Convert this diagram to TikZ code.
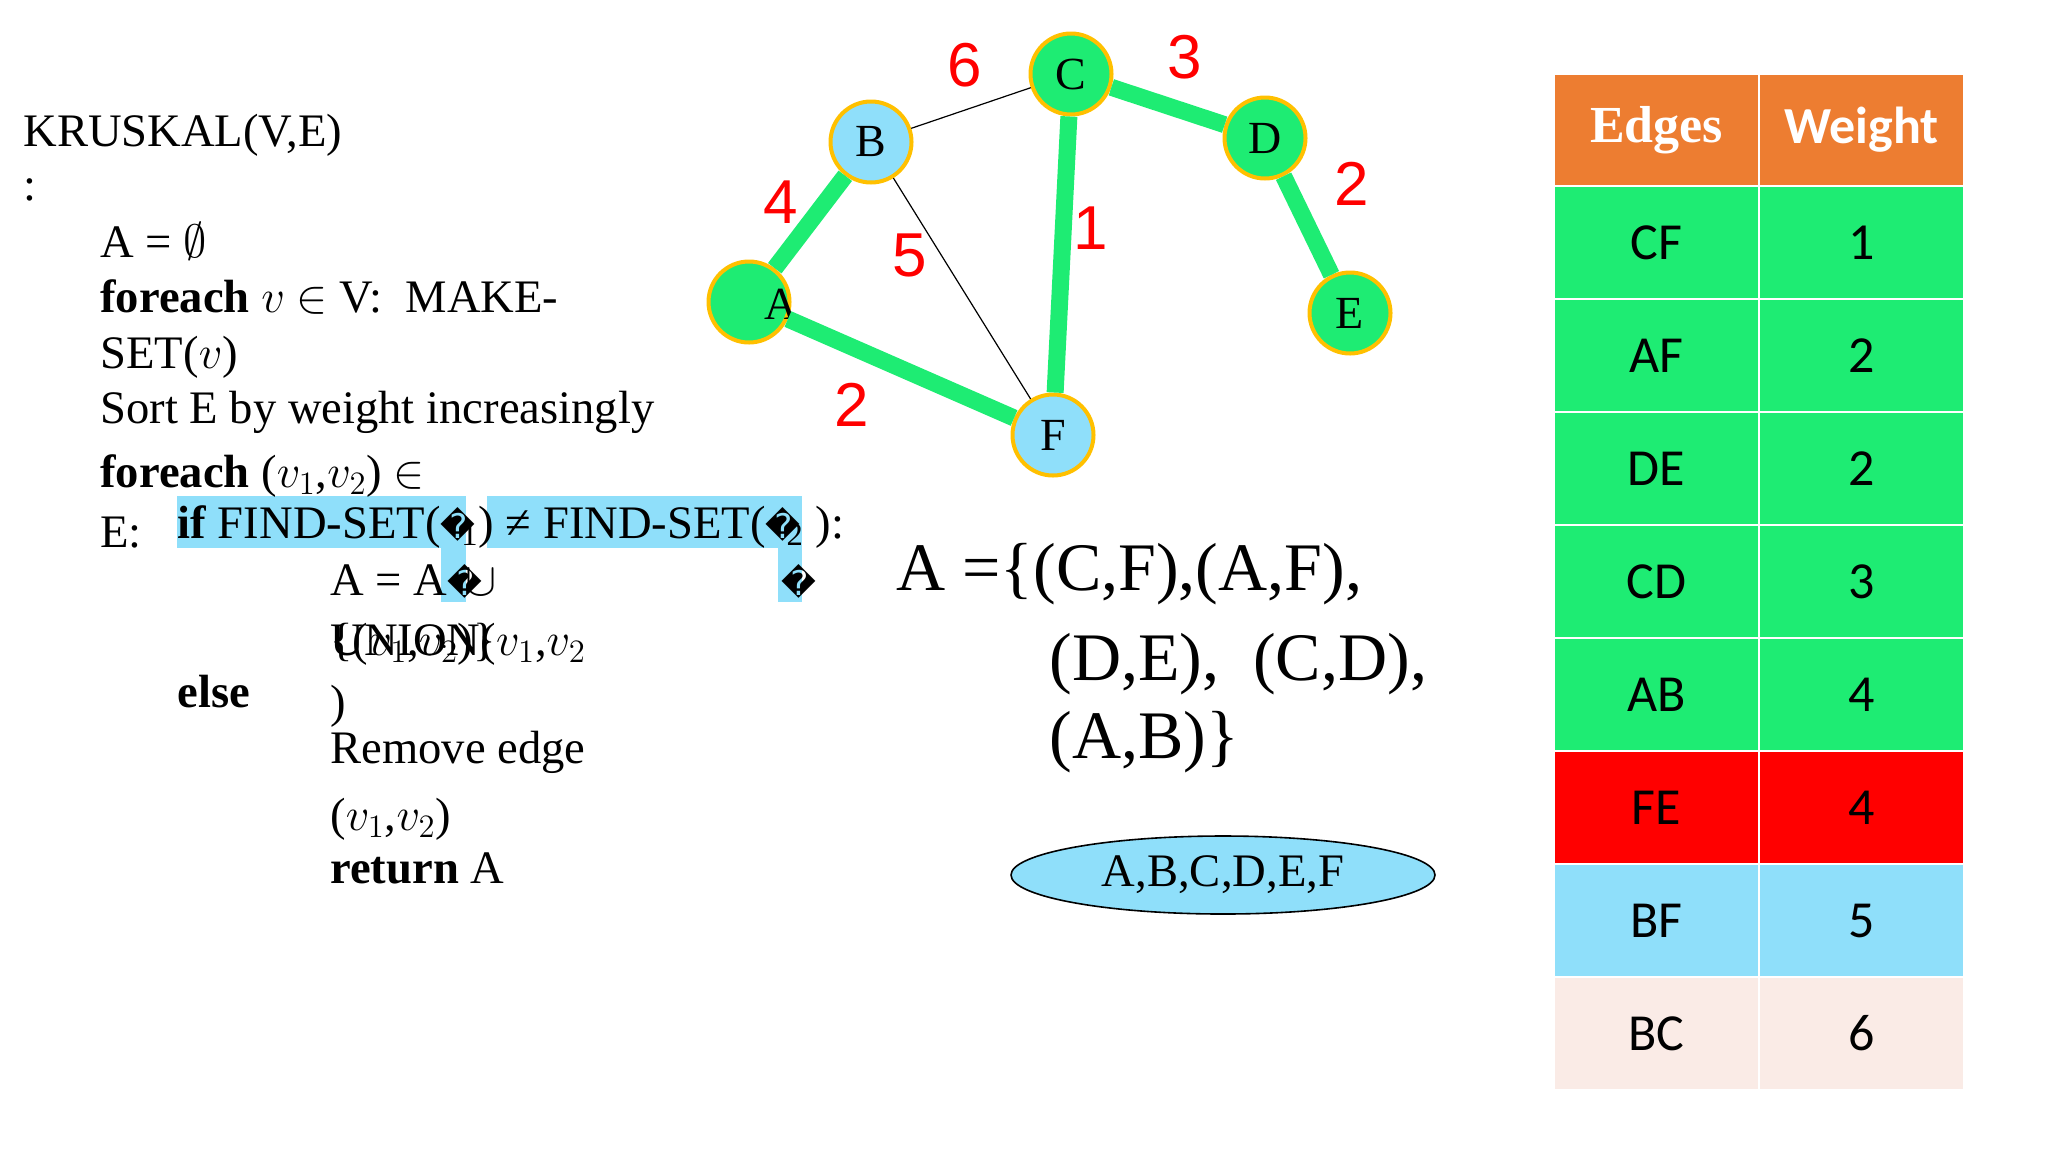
\documentclass[tikz,border=0pt]{standalone}
\usepackage{fix-cm}
\usepackage{fontspec}
\setmainfont{Liberation Serif}
\newfontfamily\calib{Carlito}
\newfontfamily\arialf{Liberation Sans}
\newfontfamily\dejavu{DejaVu Sans}
\usetikzlibrary{shapes.geometric}
\definecolor{kgreen}{HTML}{1EEC73}
\definecolor{kblue}{HTML}{8FDFFA}
\definecolor{kgold}{HTML}{FFC000}
\definecolor{korange}{HTML}{ED7D31}
\definecolor{kred}{HTML}{FF0000}
\definecolor{kpink}{HTML}{FAEBE6}
\newcommand{\codefont}{\fontsize{23.3pt}{28pt}\selectfont}
\newcommand{\badglyph}{{\dejavu\fontsize{17pt}{20pt}\selectfont\char"FFFD}}

\begin{document}
\begin{tikzpicture}[x=0.5pt,y=-0.5pt]
    \tikzset{code/.style={anchor=base west,inner sep=0pt,font=\codefont},
      setline/.style={anchor=base west,inner sep=0pt,font=\fontsize{34pt}{40pt}\selectfont},
      vertex/.style={circle,draw=kgold,line width=2pt,minimum size=40.5pt,inner sep=0pt,
        font=\fontsize{23pt}{28pt}\selectfont},
      mst/.style={kgreen,line width=8.5pt},
      spare/.style={black,line width=0.6pt},
      wlabel/.style={inner sep=0pt,text=kred,font=\arialf\fontsize{31pt}{34pt}\selectfont},
      cell/.style={draw=white,line width=1pt,minimum width=102.5pt,minimum height=56.5pt,
        inner sep=0pt,font=\calib\fontsize{26pt}{30pt}\selectfont},
      hilite/.style={fill=kblue}}
    \useasboundingbox (0,0) rectangle (2048,1152);

    % pseudocode
    \fill[hilite] (177,496) rectangle (466,548);
    \fill[hilite] (441,548) rectangle (466,602);
    \fill[hilite] (487,496) rectangle (802,548);
    \fill[hilite] (778,548) rectangle (802,602);
    \node[code] (l1) at (23,146) {KRUSKAL(V,E)};
    \node[code] (l2) at (23,200) {:};
    \node[code] (l3) at (100,257) {A = $\emptyset$};
    \node[code] (l4) at (100,312) {\textbf{foreach} $v$ $\in$ V:\ \ MAKE-};
    \node[code] (l5) at (100,368) {SET($v$)};
    \node[code] (l6) at (100,423) {Sort E by weight increasingly};
    \node[code] (l7) at (100,487) {\textbf{foreach} ($v_1$,$v_2$) $\in$};
    \node[code] (l8) at (100,547) {E:};
    \node[code] (ifl) at (177,538) {\textbf{if} FIND-SET(\badglyph\kern-.3em\textsubscript{1}) ≠ FIND-SET(\badglyph\kern-.3em\textsubscript{2} ):};
    \node[code] (addl) at (330,595) {A = A\badglyph\kern-.35em$\cup$};
    \node[code] (bad2) at (781,595) {\badglyph};
    \node[code] (un1) at (330,655) {UNION($v_1$,$v_2$};
    \node[code] (un2) at (330,655) {\{($v_1$,$v_2$)\}};
    \node[code] (rpar) at (330,717) {)};
    \node[code] (elsel) at (177,707) {\textbf{else}};
    \node[code] (rml) at (330,763) {Remove edge};
    \node[code] (pairl) at (330,830) {($v_1$,$v_2$)};
    \node[code] (retl) at (330,883) {\textbf{return} A};

    % graph
    \node[vertex,fill=kgreen,label={[xshift=16pt,yshift=-1pt,font=\fontsize{23pt}{28pt}\selectfont]center:A}] (A) at (749,302) {};
    \node[vertex,fill=kblue] (B) at (871,142) {B};
    \node[vertex,fill=kgreen] (C) at (1071,74) {C};
    \node[vertex,fill=kgreen] (D) at (1265,138) {D};
    \node[vertex,fill=kgreen] (E) at (1350,313) {E};
    \node[vertex,fill=kblue] (F) at (1053,435) {F};
    \draw[mst] (A) -- (B);
    \draw[mst] (A) -- (F);
    \draw[mst] (C) -- (F);
    \draw[mst] (C) -- (D);
    \draw[mst] (D) -- (E);
    \draw[spare] (B) -- (C);
    \draw[spare] (B) -- (F);
    \node[wlabel] (wBC) at (965,65) {6};
    \node[wlabel] (wCD) at (1185,57) {3};
    \node[wlabel] (wAB) at (781,202) {4};
    \node[wlabel] (wBF) at (910,255) {5};
    \node[wlabel] (wCF) at (1091,228) {1};
    \node[wlabel] (wDE) at (1352,184) {2};
    \node[wlabel] (wAF) at (852,405) {2};

    % result set
    \node[setline] (s1) at (896,590) {A =\{(C,F),(A,F),};
    \node[setline] (s2) at (1049,680) {(D,E),\ \ (C,D),};
    \node[setline] (s3) at (1049,758) {(A,B)\}};
    \node[ellipse,draw,fill=kblue,line width=0.8pt,minimum width=212pt,minimum height=39pt,
      font=\codefont] (allset) at (1223,875) {A,B,C,D,E,F};

    % edge table
    \node[cell,fill=korange,text=white,font=\fontsize{26pt}{30pt}\selectfont\bfseries] (hE) at (1656.5,130) {Edges};
    \node[cell,fill=korange,text=white,font=\calib\fontsize{26pt}{30pt}\selectfont\bfseries] (hW) at (1861.5,130) {Weight};
    \foreach \ed/\wt/\col [count=\i] in {CF/1/kgreen,AF/2/kgreen,DE/2/kgreen,CD/3/kgreen,
      AB/4/kgreen,FE/4/kred,BF/5/kblue,BC/6/kpink} {
      \pgfmathsetmacro\ry{242.5+113*(\i-1)}
      \node[cell,fill=\col] (e\i) at (1656.5,\ry) {\ed};
      \node[cell,fill=\col] (w\i) at (1861.5,\ry) {\wt};
    }
\end{tikzpicture}
\end{document}
